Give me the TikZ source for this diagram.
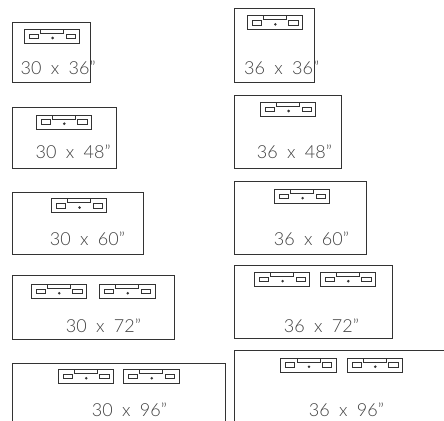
\documentclass[tikz,border=0pt]{standalone}
\usepackage{fontspec}
\setmainfont{Lato Light}
\definecolor{ink}{gray}{0.2}
\definecolor{txt}{gray}{0.25}
\newcommand{\dimtext}[2]{#1\hspace{0.52em}x\hspace{0.52em}#2\char"22\relax}
\tikzset{
  room/.style={draw=ink,line width=1pt},
  panelline/.style={draw=ink,line width=0.7pt},
  size/.style={anchor=base west,inner sep=0pt,text=txt,font=\fontsize{18}{18}\selectfont},
  panel/.pic={
    \draw[panelline] (0,0)--(16.3,0)--(16.3,4)--(39.3,4)--(39.3,0)--(55.5,0)--(55.5,14)--(0,14)--cycle;
    \draw[panelline] (16.3,0)--(39.3,0);
    \draw[panelline] (5,4.7)rectangle(14,9.3);
    \draw[panelline] (41.7,4.7)rectangle(51,9.3);
    \fill[ink] (28.3,8.7) circle (1.4);
  }
}
\begin{document}
\begin{tikzpicture}[x=1pt,y=-1pt]
\useasboundingbox (0,0) rectangle (444,420);
\draw[room] (12.5,22.3) rectangle (90.5,82.3);
\pic at (24.3,29.3) {panel};
\node[size] (a1) at (20.5,74.7) {\dimtext{30}{36}};
\draw[room] (12.5,107.3) rectangle (116,168.7);
\pic at (36,115) {panel};
\node[size] (a2) at (35.5,158.7) {\dimtext{30}{48}};
\draw[room] (12.5,192.7) rectangle (143.3,254.7);
\pic at (51.3,198.8) {panel};
\node[size] (a3) at (49.7,245.7) {\dimtext{30}{60}};
\draw[room] (12.7,275) rectangle (174,339);
\pic at (31,284.5) {panel};
\pic at (99.5,284.5) {panel};
\node[size] (a4) at (65.7,332.7) {\dimtext{30}{72}};
\draw[room] (12.7,430) -- (12.7,363) -- (225,363) -- (225,430);
\pic at (58,369.5) {panel};
\pic at (123.5,369.5) {panel};
\node[size] (a5) at (91.7,416) {\dimtext{30}{96}};
\draw[room] (234.3,8.3) rectangle (314.7,82.3);
\pic at (247,15.7) {panel};
\node[size] (b1) at (244,74.7) {\dimtext{36}{36}};
\draw[room] (234.3,95) rectangle (341.3,168.3);
\pic at (260.3,102.3) {panel};
\node[size] (b2) at (256.7,158.7) {\dimtext{36}{48}};
\draw[room] (234.3,181) rectangle (366.7,254);
\pic at (274.3,189.5) {panel};
\node[size] (b3) at (273.7,245) {\dimtext{36}{60}};
\draw[room] (234.3,265.3) rectangle (392.3,338.7);
\pic at (254.3,272.5) {panel};
\pic at (320,272.5) {panel};
\node[size] (b4) at (283.7,332.3) {\dimtext{36}{72}};
\draw[room] (234.3,430) -- (234.3,350.7) -- (450,350.7);
\pic at (280.7,358) {panel};
\pic at (347,358) {panel};
\node[size] (b5) at (308.7,416.3) {\dimtext{36}{96}};
\end{tikzpicture}
\end{document}
